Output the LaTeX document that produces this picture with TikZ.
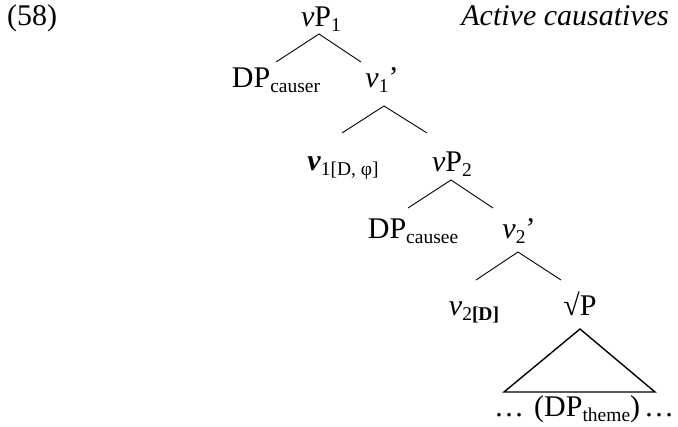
\documentclass[tikz,border=0pt]{standalone}
\usepackage{fontspec}
\setmainfont{Liberation Serif}
\newcommand\lsub[1]{\raisebox{-4.5pt}{\fontsize{19.5}{20}\selectfont #1}}
\tikzset{
  lab/.style={inner sep=0pt, anchor=base, font=\fontsize{30}{34}\selectfont},
  branch/.style={line width=0.9pt},
  tri/.style={line width=1.4pt, line join=miter}
}
\begin{document}
\begin{tikzpicture}[x=1pt,y=-1pt]
\useasboundingbox (0,0) rectangle (678,427);
% texts
\node[lab, anchor=base west] (ex) at (7,26) {(58)};
\node[lab, anchor=base east] (title) at (669,26) {\itshape Active causatives};
\node[lab] (vP1) at (321,27) {\textit{v}P\lsub{1}};
\node[lab] (DPcauser) at (276,88) {DP\lsub{causer}};
\node[lab] (v1bar) at (382,88) {\textit{v}\lsub{1}’};
\node[lab] (v1head) at (343,171) {\textbf{\textit{v}}\lsub{1[D, φ]}};
\node[lab] (vP2) at (452,172) {\textit{v}P\lsub{2}};
\node[lab] (DPcausee) at (413,239) {DP\lsub{causee}};
\node[lab] (v2bar) at (519,239) {\textit{v}\lsub{2}’};
\node[lab] (v2head) at (474,316) {\textit{v}\lsub{2\textbf{[D]}}};
\node[lab] (rootP) at (580,316) {√P};
\node[lab, anchor=base west] (bottom) at (494,417) {…\hspace{10pt}(DP\lsub{theme})\hspace{4pt}…};
% branch points
\coordinate (a0) at (319,34);
\coordinate (a0l) at (276,62);
\coordinate (a0r) at (361,62);
\coordinate (a1) at (384,106);
\coordinate (a1l) at (342,133);
\coordinate (a1r) at (427,133);
\coordinate (a2) at (451,180);
\coordinate (a2l) at (408,208);
\coordinate (a2r) at (493,208);
\coordinate (a3) at (518,252);
\coordinate (a3l) at (476,280);
\coordinate (a3r) at (561,280);
\coordinate (t0) at (580,329);
\coordinate (tl) at (504,392);
\coordinate (tr) at (655,392);
\draw[branch] (a0l) -- (a0) -- (a0r);
\draw[branch] (a1l) -- (a1) -- (a1r);
\draw[branch] (a2l) -- (a2) -- (a2r);
\draw[branch] (a3l) -- (a3) -- (a3r);
\draw[tri] (t0) -- (tl) -- (tr) -- cycle;
\end{tikzpicture}
\end{document}
